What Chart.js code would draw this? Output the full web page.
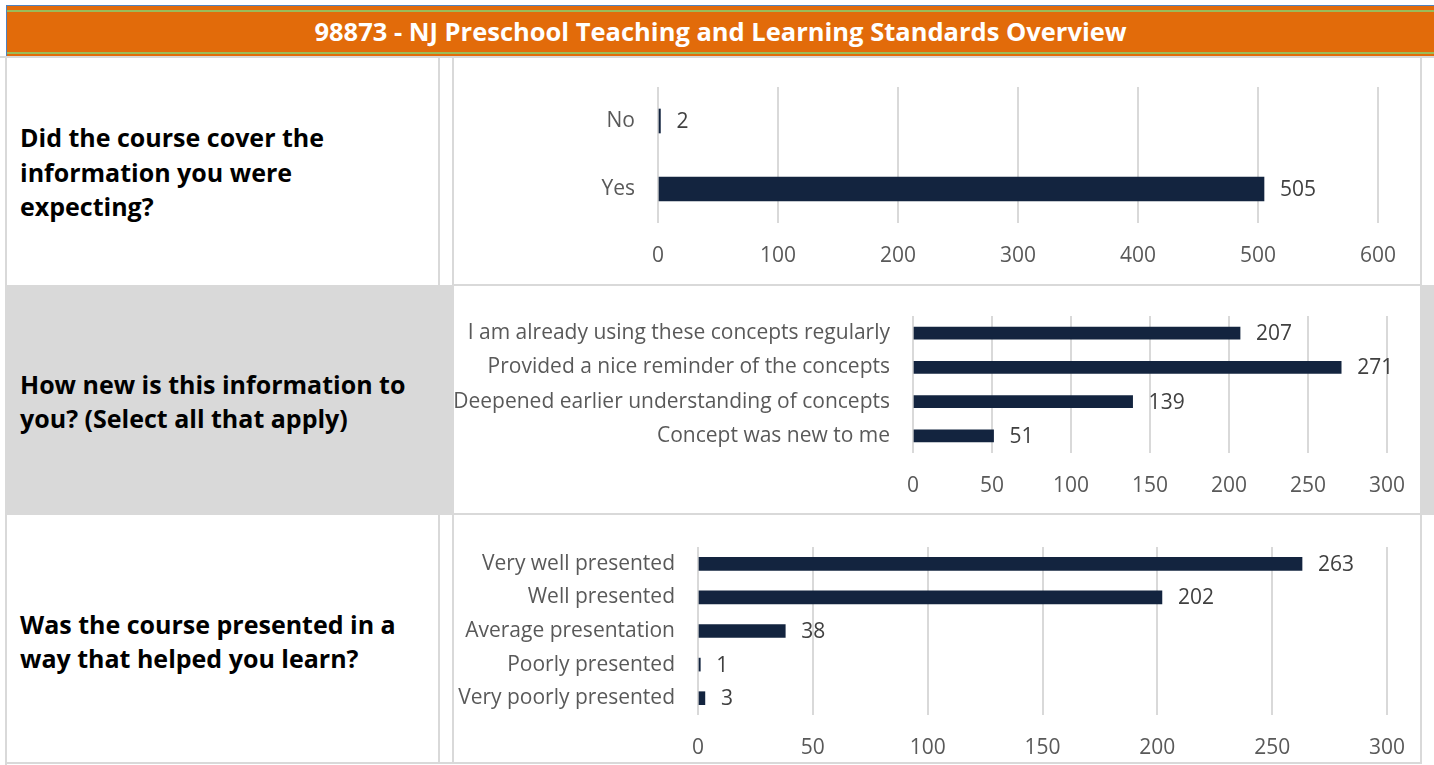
<!DOCTYPE html>
<html>
<head>
<meta charset="utf-8">
<script src="https://cdn.jsdelivr.net/npm/chart.js@4.4.0/dist/chart.umd.min.js"></script>
<style>
    body { margin: 0; width: 1434px; height: 765px; position: relative; background: #fff; overflow: hidden; font-family: "Open Sans", sans-serif; }
    .abs { position: absolute; }
    .header { left: 6px; top: 5px; width: 1428px; height: 51px; background: #e26b0a; border-top: 1px solid #4f81bd; border-left: 1px solid #4f81bd; box-sizing: border-box; }
    .header .g1, .header .g2 { position: absolute; left: 0; right: 0; height: 2px; background: #9bbb59; }
    .header .g1 { top: 4px; }
    .header .g2 { top: 46px; }
    .header .title { position: absolute; left: 0; right: 0; top: 0; bottom: 0; display: flex; align-items: center; justify-content: center; color: #fff; font-weight: bold; font-size: 25.5px; }
    .line { background: #d9d9d9; }
    .question { left: 20px; width: 415px; display: flex; align-items: center; font-weight: bold; font-size: 25px; line-height: 34.5px; color: #000; white-space: nowrap; }
    canvas { position: absolute; }
</style>
</head>
<body>
<div class="abs header"><div class="g1"></div><div class="g2"></div><div class="title">98873 - NJ Preschool Teaching and Learning Standards Overview</div></div>

<!-- row backgrounds and borders -->
<div class="abs line" style="left:0;top:56px;width:1434px;height:2px;"></div>
<div class="abs" style="left:5px;top:285px;width:449px;height:230px;background:#d9d9d9;"></div>
<div class="abs" style="left:1421px;top:285px;width:13px;height:230px;background:#d9d9d9;"></div>
<div class="abs line" style="left:5px;top:57px;width:2px;height:708px;"></div>
<div class="abs line" style="left:438px;top:57px;width:2px;height:228px;"></div>
<div class="abs line" style="left:452px;top:57px;width:2px;height:228px;"></div>
<div class="abs line" style="left:438px;top:515px;width:2px;height:248px;"></div>
<div class="abs line" style="left:452px;top:515px;width:2px;height:248px;"></div>
<div class="abs line" style="left:1420px;top:57px;width:2px;height:706px;"></div>
<div class="abs line" style="left:452px;top:284px;width:970px;height:2px;"></div>
<div class="abs line" style="left:452px;top:513px;width:970px;height:2px;"></div>
<div class="abs line" style="left:5px;top:762px;width:1417px;height:2px;"></div>

<div class="abs question" style="top:57px;height:230px;">Did the course cover the<br>information you were<br>expecting?</div>
<div class="abs question" style="top:285px;height:232px;">How new is this information to<br>you? (Select all that apply)</div>
<div class="abs question" style="top:515px;height:252px;">Was the course presented in a<br>way that helped you learn?</div>

<canvas id="chart1" width="966" height="227" style="left:454px;top:57px;"></canvas>
<canvas id="chart2" width="966" height="227" style="left:454px;top:286px;"></canvas>
<canvas id="chart3" width="966" height="246" style="left:454px;top:516px;"></canvas>

<script>
// Q1: Did the course cover the information you were expecting?
const coverLabels = ["No", "Yes"];
const coverValues = [2, 505];
const coverTicks = { max: 600, step: 100 };

// Q2: How new is this information to you?
const newLabels = [
    "I am already using these concepts regularly",
    "Provided a nice reminder of the concepts",
    "Deepened earlier understanding of concepts",
    "Concept was new to me",
];
const newValues = [207, 271, 139, 51];
const newTicks = { max: 300, step: 50 };

// Q3: Was the course presented in a way that helped you learn?
const presentLabels = [
    "Very well presented",
    "Well presented",
    "Average presentation",
    "Poorly presented",
    "Very poorly presented",
];
const presentValues = [263, 202, 38, 1, 3];
const presentTicks = { max: 300, step: 50 };

const BAR_COLOR = "#13243f";
const FONT = "'Open Sans', sans-serif";
const FONT_SIZE = 21;

// draws the value just past the end of each bar
const valueLabels = {
    id: "valueLabels",
    afterDatasetsDraw(chart) {
        const { ctx } = chart;
        const meta = chart.getDatasetMeta(0);
        ctx.save();
        ctx.font = FONT_SIZE + "px " + FONT;
        ctx.fillStyle = "#404040";
        ctx.textBaseline = "middle";
        meta.data.forEach((bar, i) => {
            ctx.fillText(String(chart.data.datasets[0].data[i]), bar.x + 16, bar.y + 1);
        });
        ctx.restore();
    },
};

// tick padding is done with invisible tick marks, so that ticks.padding
// doesn't push the chart area in from the edges
const makeChart = (id, labels, values, ticks, opts) => {
    const ctx = document.getElementById(id).getContext("2d");
    return new Chart(ctx, {
        type: "bar",
        data: {
            labels: labels,
            datasets: [
                {
                    data: values,
                    backgroundColor: BAR_COLOR,
                    barThickness: opts.bar,
                },
            ],
        },
        options: {
            indexAxis: "y",
            responsive: false,
            animation: false,
            layout: { padding: { top: opts.top, right: opts.right, left: 0, bottom: 0 } },
            plugins: { legend: { display: false }, tooltip: { enabled: false } },
            scales: {
                x: {
                    min: 0,
                    max: ticks.max,
                    ticks: {
                        stepSize: ticks.step,
                        color: "#595959",
                        font: { family: FONT, size: FONT_SIZE },
                        padding: 0,
                        maxRotation: 0,
                    },
                    grid: {
                        color: "#d9d9d9",
                        lineWidth: 2,
                        drawTicks: true,
                        tickLength: 20,
                        tickColor: "rgba(0,0,0,0)",
                    },
                    border: { display: false },
                    afterFit: (scale) => {
                        scale.height = opts.xh;
                    },
                },
                y: {
                    ticks: {
                        color: "#595959",
                        font: { family: FONT, size: FONT_SIZE },
                        padding: 0,
                    },
                    grid: {
                        display: false,
                        drawTicks: true,
                        tickLength: 23,
                    },
                    border: { display: false },
                    afterFit: (scale) => {
                        scale.width = opts.yw;
                    },
                },
            },
        },
        plugins: [valueLabels],
    });
};

makeChart("chart1", coverLabels, coverValues, coverTicks, { bar: 24, top: 30, right: 42, xh: 61, yw: 204 });
makeChart("chart2", newLabels, newValues, newTicks, { bar: 12, top: 30, right: 33, xh: 60, yw: 459 });
makeChart("chart3", presentLabels, presentValues, presentTicks, { bar: 13, top: 31, right: 33, xh: 47, yw: 244 });
</script>
</body>
</html>
